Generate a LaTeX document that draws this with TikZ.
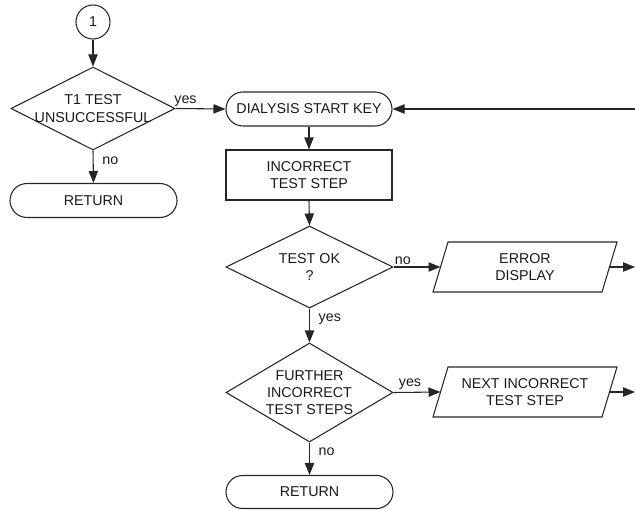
\documentclass[tikz,border=0pt]{standalone}
\usepackage{fontspec}
\setmainfont{Liberation Sans}
\usetikzlibrary{shapes.geometric,shapes.misc,arrows.meta}
\begin{document}
\begin{tikzpicture}[x=0.75pt,y=-0.75pt,
  every node/.style={font=\fontsize{10.7}{12.9}\selectfont, text=black!90},
  ln/.style={draw=black!85, line width=0.8pt},
  conn/.style={ln, -{Triangle[length=9pt,width=7pt]}},
  term/.style={ln, rounded rectangle, minimum width=125.25pt, minimum height=25.5pt, inner sep=0pt, align=center},
  procbox/.style={ln, rectangle, minimum width=124.5pt, minimum height=37.5pt, inner sep=0pt, align=center},
  decision/.style={ln, diamond, inner sep=0pt},
  txt/.style={align=center, inner sep=0pt},
  iobox/.style={rectangle, minimum width=126.75pt, minimum height=37.5pt, inner sep=0pt, outer sep=0pt, align=center},
  connc/.style={ln, circle, minimum size=25.5pt, inner sep=0pt},
  lab/.style={inner sep=1.5pt}
]
\useasboundingbox (0,0) rectangle (635,510);

% left column
\node[connc] (c1) at (93,22) {1};
\node[decision, minimum width=123pt, minimum height=62.25pt] (d1) at (93,108.5) {};
\node[txt] (d1t) at (d1.center) {T1 TEST\\UNSUCCESSFUL};
\node[term] (r1) at (93.5,200.5) {RETURN};

% middle column
\node[term, minimum width=124.5pt] (dsk) at (309,109) {DIALYSIS START KEY};
\node[procbox] (its) at (309,175) {INCORRECT\\TEST STEP};
\node[decision, minimum width=125.25pt, minimum height=61.5pt] (d2) at (309.5,267) {};
\node[txt] (d2t) at (d2.center) {TEST OK\\?};
\node[decision, minimum width=125.25pt, minimum height=74.25pt] (d3) at (309.5,392.5) {};
\node[txt] (d3t) at (d3.center) {FURTHER\\INCORRECT\\TEST STEPS};
\node[term, minimum height=24.75pt] (r2) at (309.5,492) {RETURN};

% right column (parallelograms)
\node[iobox] (err) at (525,267) {ERROR\\DISPLAY};
\node[iobox] (nxt) at (525,392) {NEXT INCORRECT\\TEST STEP};
\foreach \p in {err,nxt}{
  \draw[ln] ([xshift=5.625pt]\p.north west) -- ([xshift=5.625pt]\p.north east)
    -- ([xshift=-5.625pt]\p.south east) -- ([xshift=-5.625pt]\p.south west) -- cycle;
}

\coordinate (fb) at (635,109);
\coordinate (eout) at (635,267);
\coordinate (nout) at (635,392);

% connectors
\draw[conn] (c1.south) -- (d1.north);
\draw[conn] (d1.east) -- node[lab, above, pos=0.2] (l1) {yes} (dsk.west);
\draw[conn] (d1.south) -- node[lab, right, pos=0.3, xshift=5pt] (l2) {no} (r1.north);
\draw[conn] (fb) -- (dsk.east);
\draw[conn] (dsk.south) -- (its.north);
\draw[conn] (its.south) -- (d2.north);
\draw[conn] (d2.east) -- node[lab, above, pos=0.2] (l3) {no} (err.west);
\draw[conn] (d2.south) -- node[lab, right, pos=0.3, xshift=5pt] (l4) {yes} (d3.north);
\draw[conn] (d3.east) -- node[lab, above, pos=0.35] (l5) {yes} (nxt.west);
\draw[conn] (d3.south) -- node[lab, right, pos=0.27, xshift=5pt] (l6) {no} (r2.north);
\draw[conn] (err.east) -- (eout);
\draw[conn] (nxt.east) -- (nout);
\end{tikzpicture}
\end{document}
